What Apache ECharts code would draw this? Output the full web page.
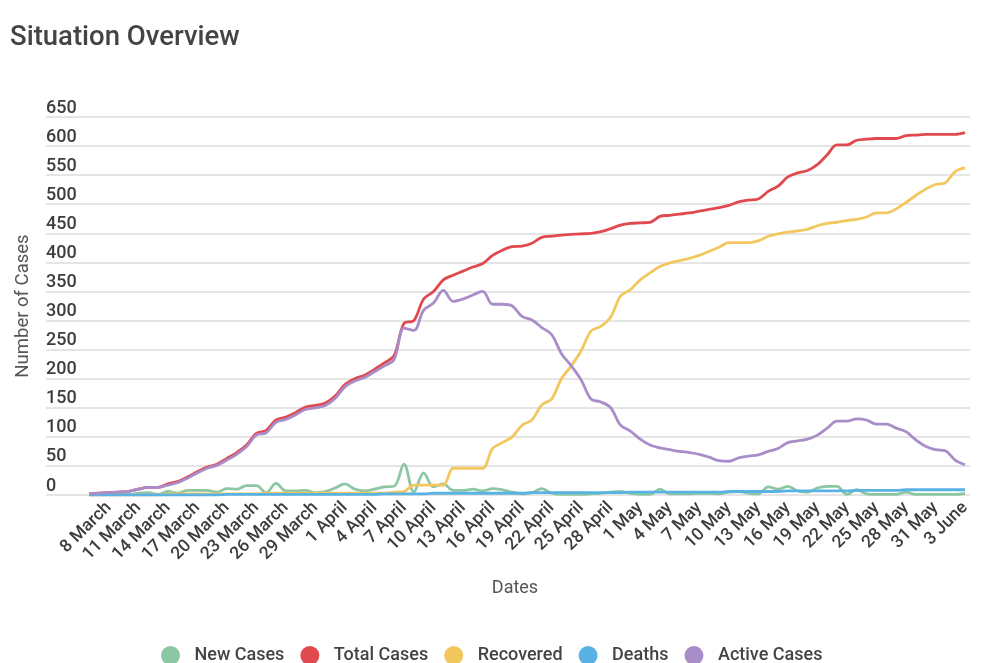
<!DOCTYPE html>
<html>
<head>
<meta charset="utf-8">
<script src="https://cdn.jsdelivr.net/npm/echarts@6/dist/echarts.min.js"></script>
<style>
html,body{margin:0;padding:0;background:#fff;}
#chart{width:1003px;height:663px;}
</style>
</head>
<body>
<div id="chart"></div>
<script>
const dates = [
 '6 March','7 March','8 March','9 March','10 March','11 March','12 March','13 March','14 March','15 March',
 '16 March','17 March','18 March','19 March','20 March','21 March','22 March','23 March','24 March','25 March',
 '26 March','27 March','28 March','29 March','30 March','31 March',
 '1 April','2 April','3 April','4 April','5 April','6 April','7 April','8 April','9 April','10 April',
 '11 April','12 April','13 April','14 April','15 April','16 April','17 April','18 April','19 April','20 April',
 '21 April','22 April','23 April','24 April','25 April','26 April','27 April','28 April','29 April','30 April',
 '1 May','2 May','3 May','4 May','5 May','6 May','7 May','8 May','9 May','10 May',
 '11 May','12 May','13 May','14 May','15 May','16 May','17 May','18 May','19 May','20 May',
 '21 May','22 May','23 May','24 May','25 May','26 May','27 May','28 May','29 May','30 May','31 May',
 '1 June','2 June','3 June'
];
const newCases = [1,1,1,2,1,3,4,1,6,3, 8,8,8,5,11,10,16,16,4,20, 7,7,8,4,6,12,19,10,7,10,
 14,15,53,5,38,14,19,8,8,10, 7,11,9,5,2,4,11,3,1,1, 1,2,3,5,6,3,1,1,10,2,
 2,2,3,3,2,5,6,3,2,14, 10,15,7,5,12,15,15,1,9,2, 1,1,1,5,1,1,1,1,1,3];
const totalCases = [2,3,4,5,6,10,13,13,19,23, 31,40,48,53,63,73,86,106,111,129, 134,142,151,154,158,170,190,200,206,216,
 227,240,295,300,337,350,370,378,385,392, 398,412,421,427,428,433,443,445,447,448, 449,450,453,458,464,467,468,469,479,481,
 483,485,488,491,494,498,504,507,509,522, 531,547,554,558,568,585,602,602,610,612, 613,613,613,618,619,620,620,620,620,623];
const recovered = [0,0,0,0,0,0,0,0,2,2, 2,2,2,2,2,2,2,2,3,3, 3,3,3,3,3,3,3,3,3,3,
 3,5,6,17,17,17,17,46,46,46, 46,80,90,100,120,129,155,165,200,222, 248,282,290,306,342,353,370,382,393,399,
 403,407,412,419,426,434,434,434,437,445, 449,452,454,457,463,467,469,472,474,478, 485,485,492,503,515,526,534,537,556,563];
const deaths = [0,0,0,0,0,0,0,0,0,0, 0,0,0,0,1,1,1,1,1,1, 1,1,1,1,1,1,1,1,1,1,
 2,2,2,2,2,3,3,3,3,3, 3,3,3,3,3,4,4,4,4,4, 4,4,4,4,4,5,5,5,5,5,
 5,5,5,5,5,6,6,6,6,6, 6,7,7,7,7,7,7,7,8,8, 8,8,8,9,9,9,9,9,9,9];
const activeCases = [2,3,4,5,6,10,13,13,17,21, 29,38,46,51,60,70,83,103,107,125, 130,138,147,150,154,166,186,196,202,212,
 222,233,287,283,318,330,352,333,337,344, 350,328,328,325,307,301,288,276,243,222, 198,165,160,150,120,110,96,86,81,78,
 75,73,70,65,59,58,64,67,69,75, 80,90,93,96,103,115,127,127,131,129, 122,122,115,109,95,84,78,76,60,52];
const yTicks = {min: 0, max: 650, step: 50};

const seriesNames = ['New Cases','Total Cases','Recovered','Deaths','Active Cases'];
const seriesData = [newCases,totalCases,recovered,deaths,activeCases];
const colors = ['#8dc6a2','#e04a4f','#f2c75e','#58b3e4','#a98dc9'];

const chart = echarts.init(document.getElementById('chart'), null, {renderer:'canvas'});
const FONT = 'Roboto';
chart.setOption({
  animation: false,
  color: colors,
  textStyle: {fontFamily: FONT},
  title: {
    text: 'Situation Overview', left: 5, top: 19,
    textStyle: {fontFamily: FONT, fontSize: 27.5, fontWeight: 500, color: '#444'}
  },
  legend: {
    top: 641, left: 156,
    icon: 'circle', itemWidth: 38, itemHeight: 19, itemGap: 16,
    data: seriesNames,
    textStyle: {fontFamily: FONT, fontSize: 18, fontWeight: 500, color: '#444'}
  },
  grid: [
    {left: 46, right: 33, top: 117, bottom: 168},
    {left: 89, right: 38, top: 117, bottom: 168}
  ],
  xAxis: [
    {gridIndex: 0, type: 'value', show: false, min: 0, max: 1},
    {
      gridIndex: 1, type: 'category', data: dates, boundaryGap: false,
      name: 'Dates', nameLocation: 'middle', nameGap: 84,
      nameTextStyle: {fontFamily: FONT, fontSize: 18, color: '#555', padding: [0, 24, 0, 0]},
      axisLine: {show: false}, axisTick: {show: false},
      axisLabel: {
        rotate: 45, margin: 10, fontFamily: FONT, fontSize: 17.5, fontWeight: 500, color: '#3d3d3d',
        interval: function (idx) { return (idx - 2) % 3 === 0; }
      }
    }
  ],
  yAxis: [
    {
      gridIndex: 0, type: 'value', min: yTicks.min, max: yTicks.max, interval: yTicks.step,
      name: 'Number of Cases', nameLocation: 'middle', nameGap: 13,
      nameTextStyle: {fontFamily: FONT, fontSize: 18.5, color: '#555'},
      axisLine: {show: false}, axisTick: {show: false},
      axisLabel: {inside: true, margin: 0, verticalAlign: 'bottom', padding: [0,0,0,0],
        fontFamily: FONT, fontSize: 18, fontWeight: 500, color: '#3d3d3d'},
      splitLine: {lineStyle: {color: '#dcdcdc', width: 1.5}}
    },
    {gridIndex: 1, type: 'value', min: yTicks.min, max: yTicks.max, show: false, splitLine: {show: false}}
  ],
  series: seriesNames.map(function (n, k) {
    return {
      name: n, type: 'line', xAxisIndex: 1, yAxisIndex: 1,
      data: seriesData[k], showSymbol: false, symbol: 'none', smooth: 0.35,
      lineStyle: {width: 2.8, color: colors[k]}, itemStyle: {color: colors[k]}
    };
  })
});
</script>
</body>
</html>
